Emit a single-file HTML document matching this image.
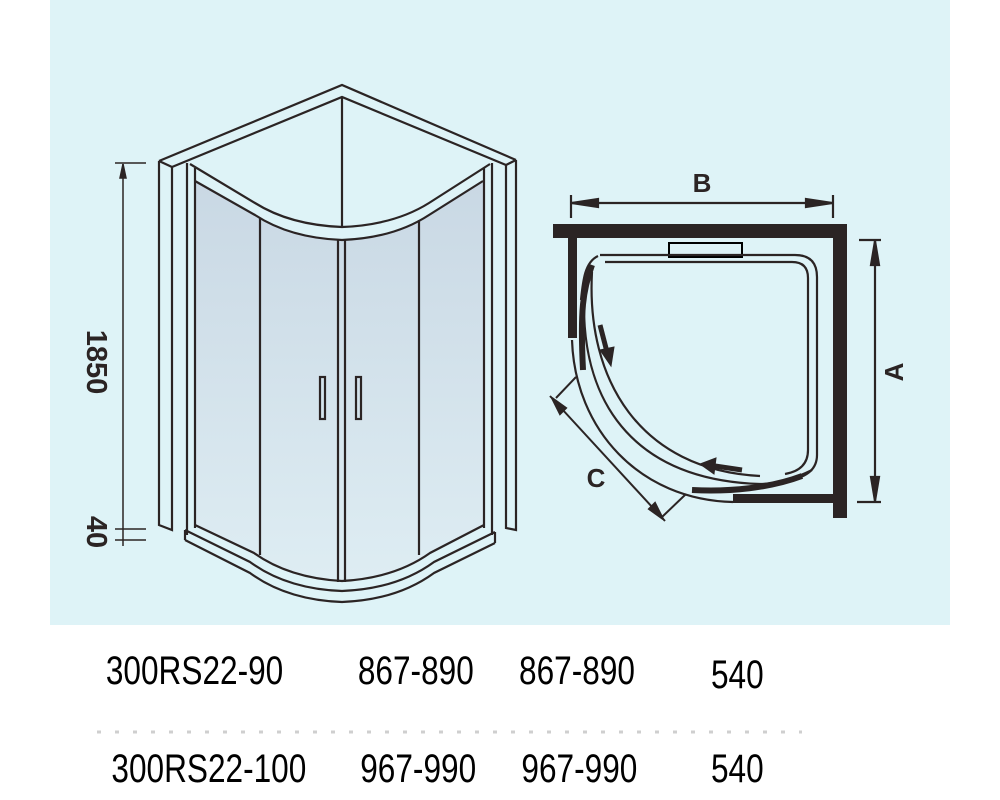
<!DOCTYPE html>
<html><head><meta charset="utf-8"><style>
html,body{margin:0;padding:0;background:#fff;}
svg{display:block;}
text{font-family:"Liberation Sans",sans-serif;}
</style></head><body>
<svg width="1000" height="800" viewBox="0 0 1000 800" xmlns="http://www.w3.org/2000/svg">
<defs>
<linearGradient id="gl" x1="0" y1="0" x2="0" y2="1">
<stop offset="0" stop-color="#c9d8e4"/><stop offset="1" stop-color="#deedf3"/>
</linearGradient>
</defs>
<rect x="50" y="0" width="900" height="625" fill="#def3f7"/>
<g fill="none" stroke="#2b2424" stroke-width="2.2" stroke-linejoin="miter">
<!-- glass -->
<path d="M195,181 L255,215 Q290,238 342,240 Q394,238 429,215 L483,181 L483,525 L430,553 Q395,578 342,581 Q289,578 254,553 L195,525 Z" fill="url(#gl)" stroke="none"/>
<!-- roof -->
<path d="M159,161 L342,85 L516,160"/>
<path d="M172,167 L342,97 L506,165"/>
<line x1="342" y1="97" x2="342" y2="227"/>
<line x1="159" y1="161" x2="172" y2="167"/>
<line x1="516" y1="160" x2="506" y2="165"/>
<!-- posts -->
<path d="M159,161 L159,525 L172,530 L172,167"/>
<path d="M516,160 L516,530 L506,528 L506,165"/>
<!-- inner frames -->
<path d="M187,163 L187,535"/>
<path d="M195,168 L195,528"/>
<path d="M492,163 L492,535"/>
<path d="M484,168 L484,528"/>
<!-- top rails -->
<path d="M190,164 L255,203 Q290,225 342,227 Q394,225 429,203 L490,164"/>
<path d="M195,181 L255,215 Q290,238 342,240 Q394,238 429,215 L483,181"/>
<!-- panel dividers -->
<line x1="260" y1="218" x2="260" y2="555"/>
<line x1="419" y1="220" x2="419" y2="555"/>
<line x1="338" y1="240" x2="338" y2="582"/>
<line x1="345" y1="240" x2="345" y2="582"/>
<!-- glass bottom -->
<path d="M195,525 L254,553 Q289,578 342,581 Q395,578 430,553 L484,525"/>
<!-- handles -->
<rect x="320" y="377" width="5" height="42"/>
<rect x="356" y="377" width="5" height="42"/>
<!-- tray -->
<path d="M185,530 L250,562 Q287,589 342,591 Q397,589 434,562 L495,532"/>
<path d="M185,540 L250,573 Q287,600 342,602 Q397,600 434,573 L495,543"/>
<line x1="185" y1="530" x2="185" y2="540"/>
<line x1="495" y1="532" x2="495" y2="543"/>
</g>
<!-- left dimension -->
<g stroke="#2b2424" stroke-width="1.5" fill="#2b2424">
<line x1="123" y1="164" x2="123" y2="546"/>
<line x1="115" y1="163" x2="146" y2="163"/>
<line x1="115" y1="529" x2="146" y2="529"/>
<line x1="115" y1="540" x2="146" y2="540"/>
<path d="M123,164 L120,178 L126,178 Z"/>
</g>
<text transform="translate(87,362) rotate(90)" font-size="29" font-weight="bold" fill="#2b2424" text-anchor="middle">1850</text>
<text transform="translate(87,532) rotate(90)" font-size="29" font-weight="bold" fill="#2b2424" text-anchor="middle">40</text>
<!-- plan view -->
<g fill="#2b2424">
<rect x="553" y="224" width="294" height="14"/>
<rect x="833" y="224" width="14" height="294"/>
<rect x="568" y="236" width="9" height="102"/>
<rect x="733" y="494" width="102" height="9"/>
</g>
<rect x="669" y="243" width="73" height="14" fill="none" stroke="#000" stroke-width="2"/>
<g fill="none" stroke="#2b2424" stroke-width="2.2">
<path d="M600,255 L795,255 Q817,255 817,277 L817,455 Q817,475 790,480"/>
<path d="M605,262 L792,262 Q808,262 808,278 L808,450 Q808,470 785,474"/>
<path d="M598,256 C585,262 583,280 581,300"/>
<path d="M572,340 C575,430 640,500 733,502"/>
<path d="M584,300 C582,410 640,480 760,484 C780,484 800,476 812,470"/>
<path d="M592,272 C586,380 640,470 760,476"/>
</g>
<g stroke="#2b2424" stroke-width="6" fill="none">
<path d="M592,265 C583,290 580,310 583,370"/>
<path d="M692,490 C730,492 770,488 802,476"/>
</g>
<!-- movement arrows -->
<g fill="#2b2424" stroke="#2b2424">
<line x1="600" y1="325" x2="607" y2="352" stroke-width="5"/>
<path d="M600,350 L614,347 L611,366 Z"/>
<line x1="742" y1="470" x2="715" y2="466" stroke-width="5"/>
<path d="M716,458 L700,464 L714,474 Z"/>
</g>
<!-- B dim -->
<g stroke="#2b2424" stroke-width="2.2" fill="#2b2424">
<line x1="571" y1="195" x2="571" y2="218"/>
<line x1="833" y1="195" x2="833" y2="218"/>
<line x1="572" y1="203" x2="832" y2="203"/>
<path d="M572,203 L598,199 L598,207 Z"/>
<path d="M832,203 L806,199 L806,207 Z"/>
</g>
<text x="702" y="192" font-size="26" font-weight="bold" fill="#2b2424" text-anchor="middle">B</text>
<!-- A dim -->
<g stroke="#2b2424" stroke-width="2.2" fill="#2b2424">
<line x1="859" y1="240" x2="881" y2="240"/>
<line x1="857" y1="502" x2="881" y2="502"/>
<line x1="875" y1="241" x2="875" y2="501"/>
<path d="M875,241 L871,265 L879,265 Z"/>
<path d="M875,501 L871,477 L879,477 Z"/>
</g>
<text transform="translate(903,372) rotate(-90)" font-size="26" font-weight="bold" fill="#2b2424" text-anchor="middle">A</text>
<!-- C dim -->
<g stroke="#2b2424" stroke-width="2" fill="#2b2424">
<line x1="550" y1="396" x2="665" y2="521"/>
<line x1="556" y1="398" x2="576" y2="377"/>
<line x1="662" y1="517" x2="686" y2="494"/>
<path d="M552,398 L566,408 L560,414 Z"/>
<path d="M663,519 L649,509 L655,503 Z"/>
</g>
<text x="596" y="487" font-size="26" font-weight="bold" fill="#2b2424" text-anchor="middle">C</text>
<!-- table -->
<g font-size="40" fill="#000" transform="scale(0.79,1)">
<text x="134" y="684">300RS22-90</text>
<text x="453" y="684">867-890</text>
<text x="657" y="684">867-890</text>
<text x="900" y="688">540</text>
<text x="141" y="782">300RS22-100</text>
<text x="456" y="782">967-990</text>
<text x="660" y="782">967-990</text>
<text x="900" y="782">540</text>
</g>
<line x1="97" y1="732" x2="802" y2="732" stroke="#cfcfcf" stroke-width="3" stroke-dasharray="4,14"/>
</svg>
</body></html>
